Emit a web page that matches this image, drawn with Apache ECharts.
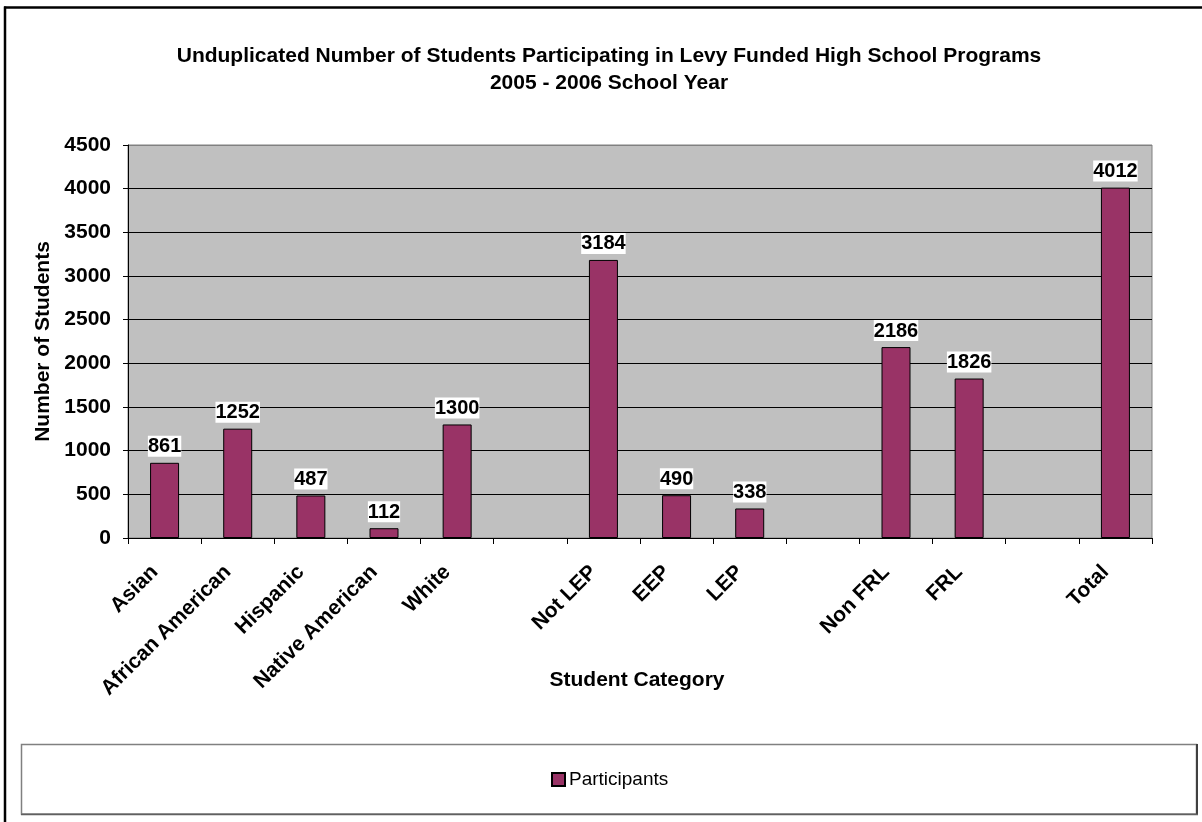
<!DOCTYPE html>
<html>
<head>
<meta charset="utf-8">
<script src="https://cdn.jsdelivr.net/npm/echarts@6/dist/echarts.min.js"></script>
<style>
  html, body { margin: 0; padding: 0; background: #ffffff; }
  #chart { width: 1202px; height: 822px; }
</style>
</head>
<body>
<div id="chart"></div>
<script>
// Student groups; the blank entries leave gaps between the groupings
const categories = [
  'Asian', 'African American', 'Hispanic', 'Native American', 'White', ' ',
  'Not LEP', 'EEP', 'LEP', '  ',
  'Non FRL', 'FRL', '   ',
  'Total'
];
const participants = [861, 1252, 487, 112, 1300, null, 3184, 490, 338, null, 2186, 1826, null, 4012];
const yTicks = [0, 500, 1000, 1500, 2000, 2500, 3000, 3500, 4000, 4500];

const FONT = '"Liberation Sans", Arial, sans-serif';
const BAR = '#993366';

// gridlines are black, the topmost one is the plot border (grey)
const gridColors = yTicks.map((v, i) => (i === yTicks.length - 1 ? '#808080' : '#000000'));

const chart = echarts.init(document.getElementById('chart'), null, { renderer: 'canvas' });

chart.setOption({
  backgroundColor: '#ffffff',
  animation: false,
  textStyle: { fontFamily: FONT, color: '#000' },
  title: {
    text: 'Unduplicated Number of Students Participating in Levy Funded High School Programs\n2005 - 2006 School Year',
    left: 604,
    top: 38,
    textAlign: 'center',
    textStyle: {
      fontFamily: FONT,
      fontWeight: 'bold',
      fontSize: 21,
      lineHeight: 27,
      color: '#000'
    }
  },
  legend: {
    data: ['Participants'],
    left: 546,
    top: 765,
    itemWidth: 13,
    itemHeight: 13,
    itemGap: 4,
    icon: 'rect',
    textStyle: { fontFamily: FONT, fontSize: 19, color: '#000', padding: [0, 0, 0, -1] }
  },
  grid: {
    left: 128,
    right: 50,
    top: 145,
    bottom: 284,
    show: true,
    backgroundColor: '#c0c0c0',
    borderColor: '#808080',
    borderWidth: 1
  },
  xAxis: {
    type: 'category',
    data: categories,
    name: 'Student Category',
    nameLocation: 'middle',
    nameGap: 132,
    nameMoveOverlap: false,
    nameTextStyle: { fontFamily: FONT, fontWeight: 'bold', fontSize: 21, color: '#000', padding: [0, 6, 0, 0] },
    axisLine: { show: true, lineStyle: { color: '#000', width: 1 } },
    axisTick: { show: true, length: 6, alignWithLabel: false, lineStyle: { color: '#000' } },
    axisLabel: {
      interval: 0,
      rotate: 45,
      margin: 21,
      padding: [0, 14, 0, 0],
      fontFamily: FONT,
      fontWeight: 'bold',
      fontSize: 21,
      color: '#000'
    },
    splitLine: { show: false }
  },
  yAxis: {
    type: 'value',
    min: 0,
    max: 4500,
    interval: 500,
    name: 'Number of Students',
    nameLocation: 'middle',
    nameGap: 74,
    nameMoveOverlap: false,
    nameRotate: 90,
    nameTextStyle: { fontFamily: FONT, fontWeight: 'bold', fontSize: 21, color: '#000' },
    axisLine: { show: true, lineStyle: { color: '#000', width: 1 } },
    axisTick: { show: true, length: 5, lineStyle: { color: '#000' } },
    axisLabel: {
      margin: 17,
      formatter: (v) => String(v),
      fontFamily: FONT,
      fontWeight: 'bold',
      fontSize: 21,
      color: '#000'
    },
    splitLine: { show: true, lineStyle: { color: gridColors, width: 1 } }
  },
  series: [{
    name: 'Participants',
    type: 'bar',
    data: participants,
    barWidth: 29,
    itemStyle: { color: BAR, borderColor: '#000', borderWidth: 1 },
    label: {
      show: true,
      position: 'top',
      distance: 6,
      fontFamily: FONT,
      fontWeight: 'bold',
      fontSize: 20,
      color: '#000',
      backgroundColor: '#ffffff',
      padding: [1, 0, 0, 0]
    }
  }],
  graphic: [
    // outer frame (top and left edges)
    { type: 'line', shape: { x1: 4, y1: 7.5, x2: 1202, y2: 7.5 }, style: { stroke: '#000', lineWidth: 2.5 }, silent: true },
    { type: 'line', shape: { x1: 5, y1: 6.5, x2: 5, y2: 822 }, style: { stroke: '#000', lineWidth: 2.5 }, silent: true },
    // legend box
    { type: 'rect', shape: { x: 21.5, y: 744.5, width: 1175, height: 69.5 }, style: { fill: '#ffffff', stroke: '#808080', lineWidth: 1.5 }, z: -1, silent: true },
    { type: 'line', shape: { x1: 1197, y1: 744, x2: 1197, y2: 815 }, style: { stroke: '#404040', lineWidth: 2 }, silent: true },
    { type: 'line', shape: { x1: 21, y1: 814.5, x2: 1198, y2: 814.5 }, style: { stroke: '#606060', lineWidth: 1.5 }, silent: true }
  ]
});
</script>
</body>
</html>
